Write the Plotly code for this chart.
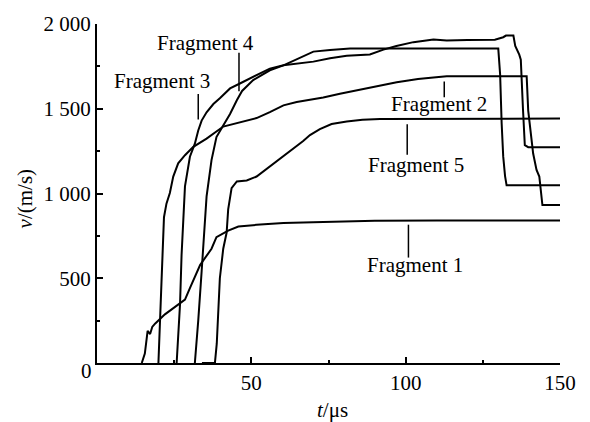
import plotly.graph_objects as go

# ---------------- data ----------------
f1_t = [14.5, 15.5, 16.4, 17.2, 17.9, 18.8, 22.0, 26.3, 28.5, 30.1, 33.4, 37.1, 38.7, 42.5, 45.8,
        51.7, 60.4, 70.0, 78.7, 90.0, 110.0, 130.0, 150.0]
f1_v = [0, 56, 190, 171, 213, 232, 287, 345, 374, 442, 578, 674, 742, 781, 805,
        815, 826, 830, 834, 839, 841, 841, 841]

f2_t = [19.9, 20.4, 20.9, 21.7, 22.5, 23.6, 24.7, 26.3, 28.5, 31.2, 35.5, 40.9, 46.3, 51.7, 56.0,
        60.4, 64.7, 69.0, 73.3, 78.7, 82.0, 86.3, 92.8, 97.1, 100.3, 104.0, 109.0, 113.3, 139.2,
        139.7, 141.3, 142.4, 143.3, 143.8, 144.3, 150.0]
f2_v = [0, 200, 480, 860, 940, 1003, 1100, 1178, 1226, 1275, 1324, 1395, 1418, 1445, 1480,
        1520, 1540, 1552, 1566, 1588, 1601, 1618, 1642, 1656, 1665, 1676, 1684, 1692, 1692,
        1489, 1236, 1139, 1100, 1003, 932, 932]

f3_t = [25.8, 26.1, 26.9, 27.4, 27.9, 28.5, 30.1, 31.7, 32.8, 33.9, 35.5, 37.7, 39.8, 43.1, 46.3,
        51.7, 56.0, 60.4, 64.7, 70.1, 75.5, 80.9, 88.4, 92.8, 97.0, 102.5, 109.0, 113.3, 120.0,
        128.9, 131.6, 132.5, 134.9, 135.5, 136.8, 137.3, 138.0, 138.6, 139.7, 150.0]
f3_v = [0, 95, 347, 637, 831, 1042, 1217, 1294, 1372, 1430, 1479, 1528, 1562, 1620, 1649,
        1698, 1737, 1756, 1765, 1778, 1798, 1812, 1820, 1849, 1870, 1893, 1908, 1903, 1906,
        1907, 1922, 1932, 1932, 1870, 1819, 1790, 1500, 1285, 1273, 1273]

f4_t = [31.7, 32.3, 32.8, 33.9, 35.0, 35.5, 37.1, 38.7, 40.7, 43.1, 45.3, 47.0, 50.6, 56.0, 60.4,
        64.7, 70.1, 75.5, 78.7, 82.0, 130.0, 130.6, 131.1, 131.6, 132.2, 132.7, 150.0]
f4_v = [0, 114, 250, 541, 831, 983, 1197, 1333, 1395, 1469, 1550, 1605, 1669, 1727, 1756,
        1790, 1837, 1847, 1851, 1855, 1855, 1703, 1413, 1219, 1103, 1048, 1048]

f5_t = [34.0, 38.2, 38.8, 39.3, 39.8, 40.9, 42.0, 42.5, 43.6, 45.3, 48.5, 51.7, 56.0, 60.4, 64.7,
        66.8, 69.0, 72.2, 76.0, 80.9, 86.0, 91.7, 150.0]
f5_v = [0, 0, 114, 347, 500, 674, 770, 906, 1032, 1071, 1077, 1100, 1159, 1217, 1280,
        1310, 1345, 1380, 1410, 1425, 1435, 1440, 1442]

series = [(f1_t, f1_v), (f2_t, f2_v), (f3_t, f3_v), (f4_t, f4_v), (f5_t, f5_v)]

label_names = ["Fragment 1", "Fragment 2", "Fragment 3", "Fragment 4", "Fragment 5"]

x_ticks = [50, 100, 150]
x_ticklabels = ["50", "100", "150"]
x_minor = [25, 75, 125]
y_ticks = [500, 1000, 1500, 2000]
y_ticklabels = ["500", "1 000", "1 500", "2 000"]
y_minor = [250, 750, 1250, 1750]

# ---------------- layout config (label text position, pointer line) ----------------
# (text_t, text_v, pointer_t, pointer_v0, pointer_v1)
label_layout = [
    (103.0, 581, 100.9, 816, 622),
    (110.8, 1529, 112.5, 1661, 1568),
    (21.0, 1665, 32.8, 1587, 1436),
    (35.0, 1890, 46.0, 1830, 1603),
    (103.2, 1169, 100.5, 1409, 1228),
]

FONT = "Liberation Serif, Times New Roman, serif"
FS = 21

fig = go.Figure()
for t, v in series:
    fig.add_trace(go.Scatter(x=t, y=v, mode="lines",
                             line=dict(color="black", width=2), showlegend=False,
                             hoverinfo="skip"))

for name, (tx, tv, px, pv0, pv1) in zip(label_names, label_layout):
    fig.add_shape(type="line", xref="x", yref="y", x0=px, x1=px, y0=pv0, y1=pv1,
                  line=dict(color="black", width=1.5))
    fig.add_annotation(x=tx, y=tv, xref="x", yref="y", text=name, showarrow=False,
                       xanchor="center", yanchor="middle",
                       font=dict(family=FONT, size=FS, color="black"))

# origin label and axis titles
fig.add_annotation(x=(86 - 97) / 463, y=(363 - 371) / 344, xref="paper", yref="paper",
                   text="0", showarrow=False, xanchor="center", yanchor="middle",
                   font=dict(family=FONT, size=FS, color="black"))
fig.add_annotation(x=(25 - 97) / 463, y=(363 - 196) / 344, xref="paper", yref="paper",
                   text="<i>v</i>/(m/s)", textangle=-90, showarrow=False,
                   xanchor="center", yanchor="middle",
                   font=dict(family=FONT, size=FS, color="black"))
fig.add_annotation(x=(332 - 97) / 463, y=(363 - 411) / 344, xref="paper", yref="paper",
                   text="<i>t</i>/μs", showarrow=False,
                   xanchor="center", yanchor="middle",
                   font=dict(family=FONT, size=FS, color="black"))

fig.update_layout(
    width=590, height=422,
    margin=dict(l=97, r=30, t=19, b=59),
    plot_bgcolor="white", paper_bgcolor="white",
    font=dict(family=FONT, size=FS, color="black"),
    xaxis=dict(range=[0, 150], showgrid=False, zeroline=False,
               showline=True, linecolor="black", linewidth=2,
               ticks="inside", ticklen=6, tickwidth=1.5, tickcolor="black",
               tickmode="array", tickvals=x_ticks, ticktext=x_ticklabels,
               minor=dict(tickmode="array", tickvals=x_minor, ticks="inside",
                          ticklen=3, tickwidth=1.5, tickcolor="black", showgrid=False),
               tickfont=dict(family=FONT, size=FS, color="black")),
    yaxis=dict(range=[0, 2000], showgrid=False, zeroline=False,
               showline=True, linecolor="black", linewidth=2,
               ticks="inside", ticklen=6, tickwidth=1.5, tickcolor="black",
               tickmode="array", tickvals=y_ticks, ticktext=y_ticklabels,
               minor=dict(tickmode="array", tickvals=y_minor, ticks="inside",
                          ticklen=3, tickwidth=1.5, tickcolor="black", showgrid=False),
               tickfont=dict(family=FONT, size=FS, color="black")),
)

fig.write_html("out.html", config={"displayModeBar": False},
               post_script="document.body.style.margin='0';document.body.style.overflow='hidden';")
